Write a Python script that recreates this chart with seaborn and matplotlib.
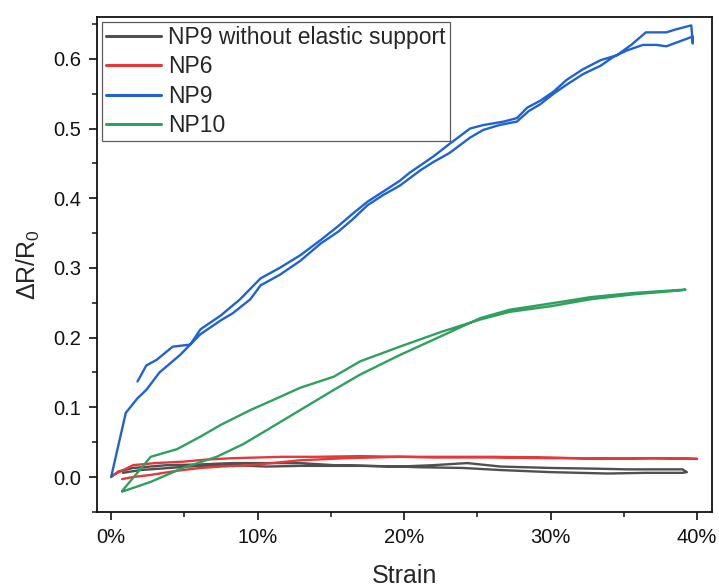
import matplotlib
matplotlib.use("Agg")
import matplotlib.pyplot as plt
import matplotlib.ticker as mticker
import numpy as np
import pandas as pd
import seaborn as sns

sns.set_theme(style="ticks")
plt.rcParams['font.family'] = ['Liberation Sans', 'DejaVu Sans']
plt.rcParams['mathtext.fontset'] = 'custom'
plt.rcParams['mathtext.rm'] = 'Liberation Sans'
plt.rcParams['mathtext.it'] = 'Liberation Sans:italic'

# strain in %, each curve = loading branch followed by unloading branch
black_x = [0, 0.5, 1.5, 3.8, 6.0, 8.3, 10.6, 12.9, 15.2, 17.5, 19.7, 22.0, 24.3, 26.6, 30.0, 33.0, 35.2, 37.0, 39.0, 39.3,
           39.0, 36.5, 33.9, 30.0, 26.6, 24.0, 21.0, 19.7, 17.0, 15.0, 12.9, 10.6, 8.3, 6.0, 4.0, 2.0, 0.8]
black_y = [0, 0.008, 0.013, 0.017, 0.018, 0.02, 0.02, 0.02, 0.017, 0.016, 0.015, 0.017, 0.02, 0.015, 0.013, 0.012, 0.011, 0.011, 0.011, 0.007,
           0.006, 0.006, 0.005, 0.007, 0.010, 0.013, 0.014, 0.015, 0.016, 0.016, 0.016, 0.015, 0.017, 0.016, 0.013, 0.010, 0.006]

red_x = [0.15, 1.5, 3.0, 4.9, 6.5, 8.3, 10.0, 11.7, 14.0, 17.0, 19.7, 23.0, 26.0, 30.0, 33.4, 37.0, 40.0,
         38.0, 34.0, 30.0, 26.0, 22.0, 19.7, 16.0, 12.9, 11.0, 9.5, 7.5, 6.1, 4.5, 2.7, 1.5, 0.75]
red_y = [0.003, 0.017, 0.02, 0.022, 0.025, 0.027, 0.028, 0.029, 0.029, 0.03, 0.029, 0.029, 0.029, 0.028, 0.026, 0.027, 0.026,
         0.027, 0.027, 0.027, 0.028, 0.028, 0.029, 0.027, 0.024, 0.02, 0.017, 0.015, 0.013, 0.009, 0.003, 0.0, -0.003]

blue_x = [0, 1.0, 1.8, 2.4, 3.3, 4.7, 6.1, 7.5, 8.3, 9.5, 10.2, 11.5, 12.9, 14.3, 15.5, 16.5, 17.5, 18.6, 19.7,
          21.1, 22.0, 23.1, 24.5, 25.4, 26.5, 27.7, 28.5, 29.3, 30.2, 31.1, 32.2, 33.4, 34.3, 35.2, 36.3, 37.2,
          37.9, 38.8, 39.7, 39.7, 39.6, 38.5, 37.9, 36.5, 35.5, 34.5, 33.4, 32.2, 31.1, 30.2, 29.3, 28.4, 27.7,
          26.8, 25.4, 24.5, 23.1, 22.0, 21.1, 20.4, 19.7, 18.6, 17.5, 16.5, 15.5, 14.3, 12.9, 11.5, 10.2, 9.5,
          8.8, 7.5, 6.1, 5.4, 4.2, 3.1, 2.4, 1.8]
blue_y = [0, 0.092, 0.113, 0.125, 0.15, 0.175, 0.205, 0.225, 0.235, 0.255, 0.275, 0.29, 0.31, 0.335, 0.352, 0.37,
          0.39, 0.405, 0.418, 0.44, 0.452, 0.465, 0.487, 0.498, 0.505, 0.51, 0.525, 0.535, 0.55, 0.563, 0.578,
          0.59, 0.603, 0.612, 0.62, 0.62, 0.618, 0.625, 0.632, 0.622, 0.648, 0.642, 0.638, 0.638, 0.62, 0.605,
          0.598, 0.585, 0.57, 0.553, 0.54, 0.53, 0.515, 0.51, 0.505, 0.5, 0.478, 0.46, 0.447, 0.437, 0.425,
          0.41, 0.395, 0.378, 0.36, 0.34, 0.318, 0.3, 0.285, 0.27, 0.255, 0.232, 0.212, 0.19, 0.187, 0.168,
          0.16, 0.137]

green_x = [0.75, 2.7, 4.9, 7.2, 9.0, 10.6, 12.9, 15.2, 17.0, 19.7, 22.0, 25.2, 27.2, 30.0, 32.7, 35.6, 39.2,
           39.0, 35.6, 32.7, 30.0, 27.2, 25.2, 22.5, 19.7, 17.0, 15.2, 12.9, 11.0, 9.5, 7.5, 6.1, 4.5, 2.7, 0.75]
green_y = [-0.021, -0.007, 0.013, 0.029, 0.047, 0.067, 0.096, 0.125, 0.147, 0.175, 0.197, 0.228, 0.24, 0.249, 0.258,
           0.264, 0.269, 0.268, 0.262, 0.255, 0.245, 0.237, 0.226, 0.208, 0.187, 0.166, 0.144, 0.128, 0.11, 0.096,
           0.075, 0.058, 0.04, 0.029, -0.02]

labels = ["NP9 without elastic support", "NP6", "NP9", "NP10"]
colors = ["#505050", "#e5383b", "#1f63d3", "#2ea05f"]

frames = []
for lab, xs, ys in zip(labels, [black_x, red_x, blue_x, green_x], [black_y, red_y, blue_y, green_y]):
    frames.append(pd.DataFrame({"Strain": np.array(xs) / 100, "dR": ys, "Sample": lab}))
df = pd.concat(frames, ignore_index=True)

fig = plt.figure(figsize=(7.19, 5.87), dpi=100)
ax = fig.add_axes([0.135, 0.128, 0.855, 0.843])

sns.lineplot(data=df, x="Strain", y="dR", hue="Sample", hue_order=labels,
             palette=colors, sort=False, estimator=None, units="Sample",
             linewidth=1.7, ax=ax)

ax.set_xlim(-0.0096, 0.41)
ax.set_ylim(-0.05, 0.66)
ax.xaxis.set_major_locator(mticker.MultipleLocator(0.1))
ax.xaxis.set_minor_locator(mticker.MultipleLocator(0.05))
ax.xaxis.set_major_formatter(mticker.PercentFormatter(1.0, decimals=0))
ax.yaxis.set_major_locator(mticker.MultipleLocator(0.1))
ax.yaxis.set_minor_locator(mticker.MultipleLocator(0.05))
ax.yaxis.set_major_formatter(mticker.FormatStrFormatter("%.1f"))

ax.tick_params(which="major", direction="out", length=5.5, width=1.2, labelsize=14.5,
               colors="#111111", pad=6)
ax.tick_params(which="minor", direction="out", length=3.5, width=1.2)
for s in ax.spines.values():
    s.set_linewidth(1.3)
    s.set_color("#111111")

ax.set_xlabel("Strain", fontsize=18, labelpad=12)
ax.set_ylabel(r"$\Delta$R/R$_0$", fontsize=18, labelpad=8)

leg = ax.legend(loc="upper left", bbox_to_anchor=(0.0, 1.0), fontsize=16.5, frameon=True,
                fancybox=False, edgecolor="#333333", handlelength=2.4, handletextpad=0.3,
                labelspacing=0.27, borderpad=0.2, borderaxespad=0.2)
leg.get_frame().set_linewidth(0.9)
for line in leg.get_lines():
    line.set_linewidth(2.2)

fig.savefig("out.png", dpi=100)
